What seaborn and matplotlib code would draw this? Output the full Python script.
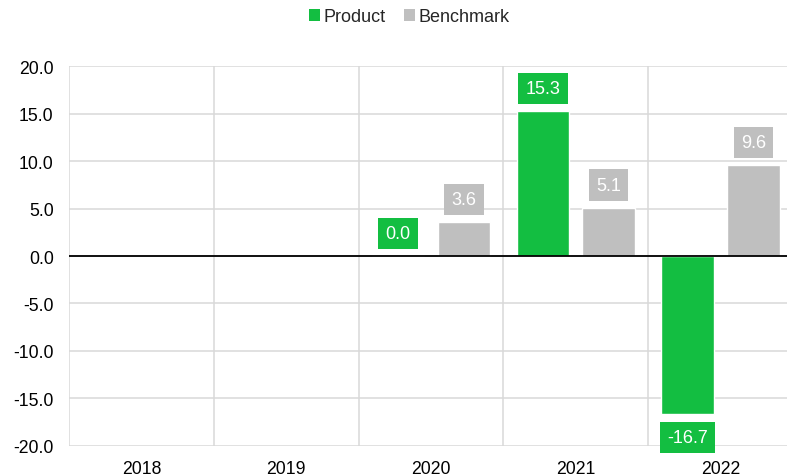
import matplotlib
matplotlib.use("Agg")
import matplotlib.pyplot as plt
import seaborn as sns
import pandas as pd
import numpy as np
from matplotlib.patches import Patch

years = ["2018", "2019", "2020", "2021", "2022"]
product = [np.nan, np.nan, 0.0, 15.3, -16.7]
benchmark = [np.nan, np.nan, 3.6, 5.1, 9.6]
series_names = ["Product", "Benchmark"]
colors = ["#13BE41", "#BFBFBF"]
y_ticks = [-20, -15, -10, -5, 0, 5, 10, 15, 20]

sns.set_theme(style="white")
plt.rcParams["font.family"] = ["Liberation Sans", "DejaVu Sans"]

df = pd.DataFrame({
    "Year": years * 2,
    "Series": [series_names[0]] * len(years) + [series_names[1]] * len(years),
    "Value": product + benchmark,
})

fig = plt.figure(figsize=(7.87, 4.77), dpi=100)
ax = fig.add_axes([69 / 787, 1 - 446.7 / 477, (793 - 69) / 787, (446.7 - 67.3) / 477])

sns.barplot(data=df, x="Year", y="Value", hue="Series", order=years,
            hue_order=series_names, palette=colors, width=0.91, gap=0.2,
            saturation=1, legend=False, ax=ax, errorbar=None)

ax.set_ylim(-20, 20)
ax.set_xlim(-0.5, len(years) - 0.5)
ax.set_yticks(y_ticks)
ax.set_yticklabels([f"{v:.1f}" for v in y_ticks])
ax.set_xlabel("")
ax.set_ylabel("")
for s in ax.spines.values():
    s.set_visible(False)

grid_c = "#D9D9D9"
for v in y_ticks:
    ax.axhline(v, color=grid_c, lw=1.1, zorder=0)
for i in range(len(years) + 1):
    ax.axvline(i - 0.5, color=grid_c, lw=1.1, zorder=0)
ax.axhline(0, color="black", lw=1.3, zorder=3)

ax.tick_params(axis="both", length=0, labelsize=12.7, colors="black")
ax.tick_params(axis="y", pad=11)
ax.tick_params(axis="x", pad=10.5)

# value labels
for cont, color in zip(ax.containers, colors):
    for bar in cont:
        h = bar.get_height()
        if np.isnan(h):
            continue
        x = bar.get_x() + bar.get_width() / 2
        off = 22.5 if h >= 0 else -23
        ax.annotate(f"{h:.1f}", (x, h), xytext=(0, off), textcoords="offset pixels",
                    ha="center", va="center", color="white", fontsize=13,
                    bbox=dict(boxstyle="square,pad=0.4", fc=color, ec="none"),
                    zorder=5, annotation_clip=False)

handles = [Patch(facecolor=c, edgecolor="none") for c in colors]
fig.legend(handles, series_names, loc="center", bbox_to_anchor=(409 / 787, 1 - 18 / 477),
           ncol=2, frameon=False, fontsize=13, handlelength=0.62, handleheight=0.62,
           handletextpad=0.2, columnspacing=1.0)

fig.savefig("out.png", dpi=100)
